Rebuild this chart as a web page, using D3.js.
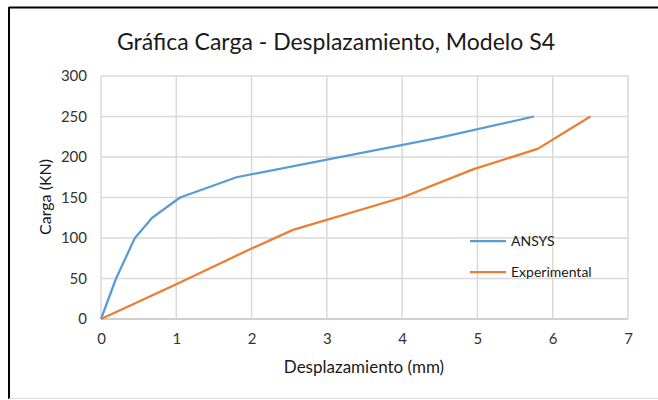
<!DOCTYPE html>
<html>
<head>
	<meta charset="utf-8">
	<title>Gráfica Carga - Desplazamiento</title>
	<script src="https://cdn.jsdelivr.net/npm/d3@7"></script>
	<style>
		body {
			margin: 0;
			font-family: Lato, "Open Sans", sans-serif;
			background: #fff;
		}
	</style>
</head>
<body>
	<div id="chart"></div>
	<script>

		// data
		const seriesNames = ["ANSYS", "Experimental"];
		const ansysX = [0, 0.2, 0.45, 0.68, 1.05, 1.8, 4.5, 5.75];
		const ansysY = [0, 50, 100, 125, 150, 175, 224, 250];
		const expX = [0, 1, 2, 2.55, 4, 4.95, 5.8, 6.5];
		const expY = [0, 43, 87, 110, 150, 185, 210, 250];
		const xTicks = [0, 1, 2, 3, 4, 5, 6, 7];
		const yTicks = [0, 50, 100, 150, 200, 250, 300];

		const width = 658;
		const height = 400;
		const colors = ["#5B9BD5", "#ED7D31"];
		const margin = { top: 76, right: 30, bottom: 81, left: 101 };

		const svg = d3.select("#chart")
			.append("svg")
			.attr("width", width)
			.attr("height", height);

		// outer frame
		svg.append("line")
			.attr("x1", 9).attr("x2", width).attr("y1", 7.5).attr("y2", 7.5)
			.attr("stroke", "#000").attr("stroke-width", 2);
		svg.append("line")
			.attr("x1", 9).attr("x2", 9).attr("y1", 7).attr("y2", 399)
			.attr("stroke", "#000").attr("stroke-width", 2);
		svg.append("line")
			.attr("x1", 9).attr("x2", width).attr("y1", 398.5).attr("y2", 398.5)
			.attr("stroke", "#d9d9d9").attr("stroke-width", 1);

		const x = d3.scaleLinear().domain([0, 7]).range([margin.left, width - margin.right]);
		const y = d3.scaleLinear().domain([0, 300]).range([height - margin.bottom, margin.top]);

		// gridlines
		svg.append("g")
			.selectAll("line.h")
			.data(yTicks)
			.join("line")
			.attr("x1", x(0)).attr("x2", x(7))
			.attr("y1", d => y(d)).attr("y2", d => y(d))
			.attr("stroke", d => d === 0 ? "#bfbfbf" : "#d9d9d9")
			.attr("stroke-width", 1.5);
		svg.append("g")
			.selectAll("line.v")
			.data(xTicks)
			.join("line")
			.attr("x1", d => x(d)).attr("x2", d => x(d))
			.attr("y1", y(0)).attr("y2", y(300))
			.attr("stroke", "#d9d9d9")
			.attr("stroke-width", 1.5);

		// axes (labels only)
		const xAxis = d3.axisBottom(x).tickValues(xTicks).tickFormat(d3.format("d")).tickSize(0).tickPadding(14);
		const yAxis = d3.axisLeft(y).tickValues(yTicks).tickSize(0).tickPadding(14);

		svg.append("g")
			.attr("transform", `translate(0,${y(0)})`)
			.call(xAxis)
			.call(g => g.select(".domain").remove())
			.call(g => g.selectAll("text")
				.attr("fill", "#333")
				.style("font-family", "Lato, sans-serif")
				.style("font-size", "15px"));

		svg.append("g")
			.attr("transform", `translate(${x(0)},0)`)
			.call(yAxis)
			.call(g => g.select(".domain").remove())
			.call(g => g.selectAll("text")
				.attr("fill", "#333")
				.style("font-family", "Lato, sans-serif")
				.style("font-size", "15px"));

		// lines
		const line = d3.line()
			.x(d => x(d[0]))
			.y(d => y(d[1]));

		const series = [
			d3.zip(ansysX, ansysY),
			d3.zip(expX, expY)
		];

		svg.append("g")
			.selectAll("path")
			.data(series)
			.join("path")
			.attr("fill", "none")
			.attr("stroke", (d, i) => colors[i])
			.attr("stroke-width", 2.25)
			.attr("stroke-linejoin", "round")
			.attr("d", line);

		// title
		svg.append("text")
			.attr("x", 336)
			.attr("y", 50)
			.attr("text-anchor", "middle")
			.attr("fill", "#1a1a1a")
			.style("font-size", "23px")
			.text("Gráfica Carga - Desplazamiento, Modelo S4");

		// axis titles
		svg.append("text")
			.attr("x", 364)
			.attr("y", 373)
			.attr("text-anchor", "middle")
			.attr("fill", "#1a1a1a")
			.style("font-size", "17px")
			.text("Desplazamiento (mm)");

		svg.append("text")
			.attr("transform", "translate(51,197) rotate(-90)")
			.attr("text-anchor", "middle")
			.attr("fill", "#1a1a1a")
			.style("font-size", "16px")
			.text("Carga (KN)");

		// legend
		const legend = svg.append("g")
			.selectAll("g")
			.data(seriesNames)
			.join("g")
			.attr("transform", (d, i) => `translate(470,${241 + i * 31})`);
		legend.append("line")
			.attr("x1", 0).attr("x2", 36)
			.attr("stroke", (d, i) => colors[i])
			.attr("stroke-width", 2.25);
		legend.append("text")
			.attr("x", 41)
			.attr("y", 5)
			.attr("fill", "#1a1a1a")
			.style("font-size", "14px")
			.text(d => d);

	</script>
</body>
</html>
